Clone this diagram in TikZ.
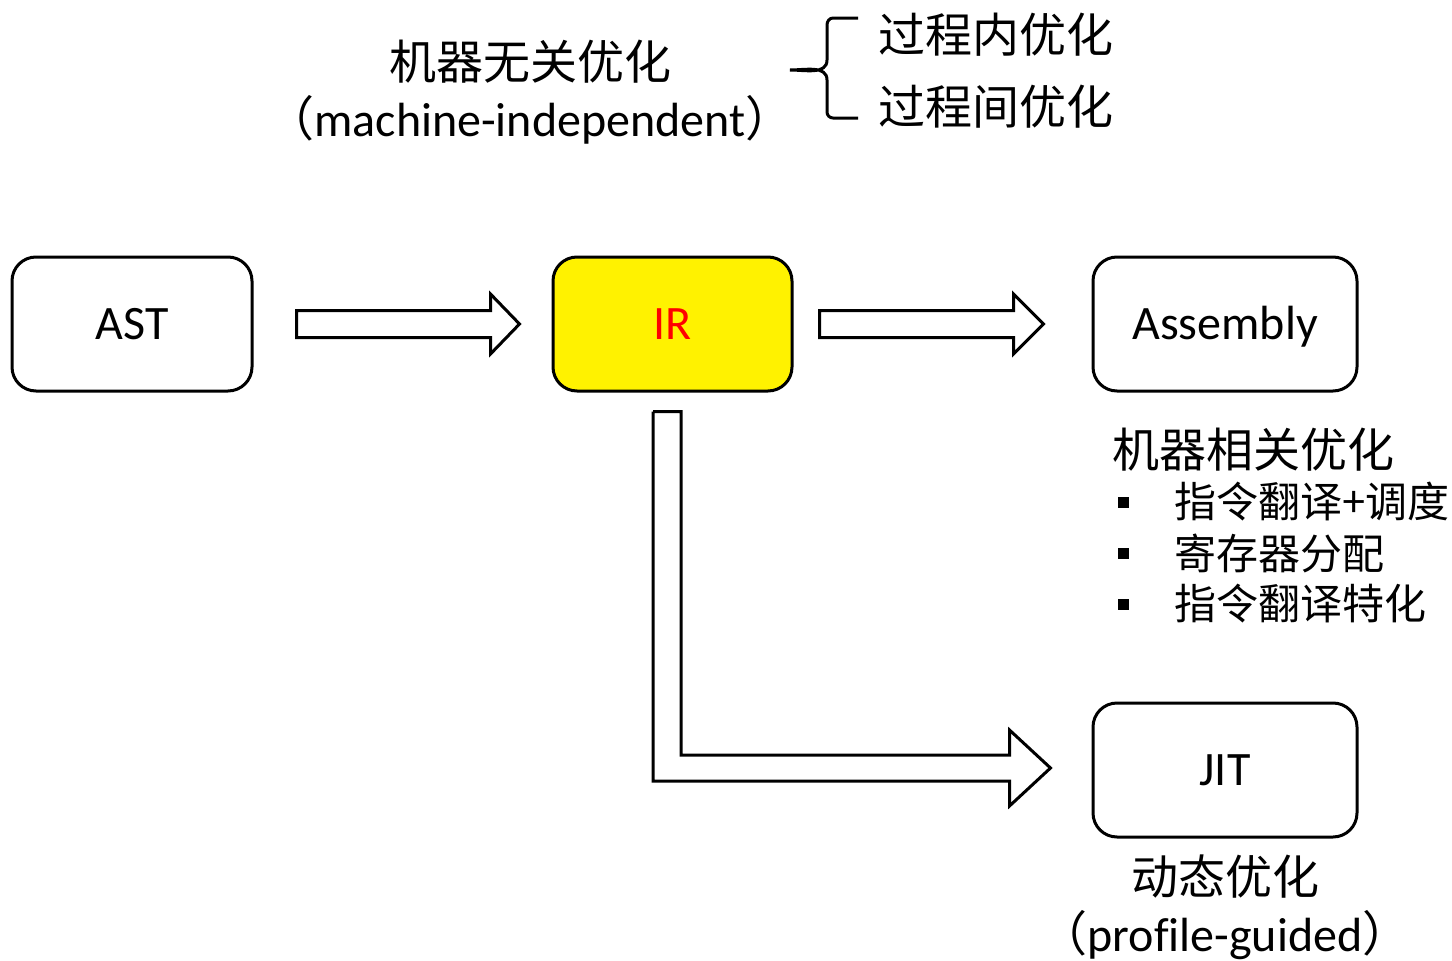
\documentclass[tikz,border=0pt]{standalone}
\usepackage{fontspec}
\setmainfont{Carlito}[Ligatures=NoCommon]
\newfontfamily\cjk{Noto Sans CJK SC}
\usetikzlibrary{calc}
\begin{document}
\begin{tikzpicture}[x=1pt,y=-1pt,
  stage/.style={draw,line width=3pt,rounded corners=24pt,minimum width=240pt,
    minimum height=134pt,inner sep=0pt,text height=31pt,text depth=0pt,
    font=\fontsize{48}{54}\selectfont},
  blockarrow/.style={draw,line width=3pt,fill=white,line join=miter},
  bigtext/.style={inner sep=0pt,font=\cjk\fontsize{47}{56}\selectfont},
  entext/.style={inner sep=0pt,font=\fontsize{48}{54}\selectfont},
  listtext/.style={inner sep=0pt,anchor=west,font=\cjk\fontsize{42}{50}\selectfont},
  bulletsq/.style={fill=black,inner sep=0pt,minimum size=11pt}]
\useasboundingbox (0,0) rectangle (1452,961);

% compiler stages
\node[stage] (ast) at (132,324) {AST};
\node[stage,fill=yellow,text=red,minimum width=239pt] (ir) at (672.5,324) {IR};
\node[stage,minimum width=264pt] (asm) at (1225,324) {Assembly};
\node[stage,minimum width=264pt] (jit) at (1225,770) {JIT};

% AST => IR
\draw[blockarrow]
  ($(ast.east)+(43,-13.5)$) -- ($(ir.west)+(-61,-13.5)$) -- ($(ir.west)+(-61,-30)$)
  -- ($(ir.west)+(-32,0)$) -- ($(ir.west)+(-61,30)$) -- ($(ir.west)+(-61,13.5)$)
  -- ($(ast.east)+(43,13.5)$) -- cycle;

% IR => Assembly
\draw[blockarrow]
  ($(ir.east)+(26,-13.5)$) -- ($(asm.west)+(-78,-13.5)$) -- ($(asm.west)+(-78,-30)$)
  -- ($(asm.west)+(-48,0)$) -- ($(asm.west)+(-78,30)$) -- ($(asm.west)+(-78,13.5)$)
  -- ($(ir.east)+(26,13.5)$) -- cycle;

% IR => JIT (bent)
\coordinate (ltop) at ($(ir.south)+(-19.5,19)$);
\coordinate (tip) at ($(jit.west)+(-41,-2)$);
\draw[blockarrow]
  (ltop) -- ++(28,0) |- ($(tip)+(-41,-13)$) -- ($(tip)+(-41,-38)$) -- (tip)
  -- ($(tip)+(-41,38)$) -- ($(tip)+(-41,13)$) -| (ltop);

% machine-independent optimisation
\node[bigtext] (mi) at (530,62) {机器无关优化};
\node[entext] (mien) at (530,120)
  {{\cjk （}machine-independent{\cjk ）}};
\node[bigtext,anchor=west] (intra) at (878,35) {过程内优化};
\node[bigtext,anchor=west] (inter) at (878,107) {过程间优化};
\coordinate (brtip) at (790,70);
\draw[line width=3pt]
  ($(intra.west)+(-20,-17)$) -- (833,18) to[out=180,in=90] (827,25) -- (827,60)
  to[out=-90,in=0] (brtip) to[out=0,in=90] (827,80) -- (827,112)
  to[out=-90,in=180] (833,118) -- ($(inter.west)+(-20,11)$);

% machine-dependent optimisation
\node[bigtext,anchor=west] (md) at (1112,450) {机器相关优化};
\node[bulletsq] (b1) at (1123,502) {};
\node[bulletsq] (b2) at (1123,553) {};
\node[bulletsq] (b3) at (1123,604) {};
\node[listtext] (l1) at (1174,502) {指令翻译+调度};
\node[listtext] (l2) at (1174,553) {寄存器分配};
\node[listtext] (l3) at (1174,604) {指令翻译特化};

% dynamic optimisation
\node[bigtext] (dyn) at (1225,877) {动态优化};
\node[entext] (dynen) at (1225,935)
  {{\cjk （}profile-guided{\cjk ）}};
\end{tikzpicture}
\end{document}
